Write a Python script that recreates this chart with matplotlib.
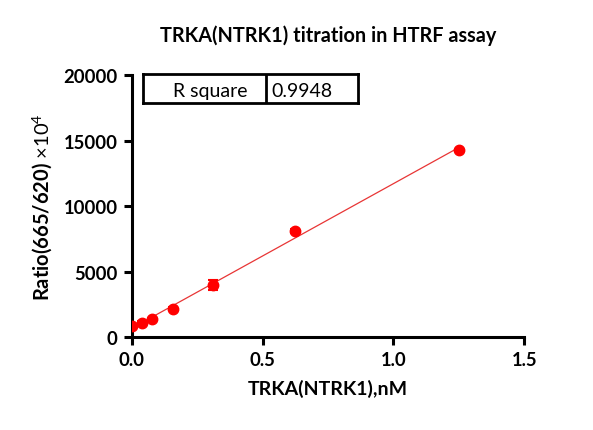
import numpy as np
import matplotlib
matplotlib.use("Agg")
import matplotlib.pyplot as plt

plt.rcParams['font.family'] = ['Lato', 'DejaVu Sans']
plt.rcParams['mathtext.fontset'] = 'custom'
plt.rcParams['mathtext.rm'] = 'Lato'

conc = [0.0, 0.039, 0.078, 0.156, 0.3125, 0.625, 1.25]
ratio = [870, 1125, 1380, 2195, 3975, 8090, 14290]
err = [60, 80, 90, 120, 360, 150, 100]
r_square = "0.9948"

fig = plt.figure(figsize=(5.93, 4.31), dpi=100)
ax = fig.add_axes([0.2221, 0.2151, 0.662, 0.6086])

# linear fit through the points
k, b = np.polyfit(conc, ratio, 1)
xf = np.array([0, max(conc)])
ax.plot(xf, k * xf + b, color='#e83535', lw=0.9, zorder=2)

ax.errorbar(conc, ratio, yerr=err, fmt='o', color='#ff0000', ms=7.5,
            elinewidth=1.5, capsize=3.5, capthick=1.5, zorder=3)

ax.set_xlim(0, 1.5)
ax.set_ylim(0, 20000)
ax.set_xticks([0, 0.5, 1.0, 1.5])
ax.set_xticklabels(['0.0', '0.5', '1.0', '1.5'])
ax.set_yticks([0, 5000, 10000, 15000, 20000])

for s in ['top', 'right']:
    ax.spines[s].set_visible(False)
for s in ['left', 'bottom']:
    ax.spines[s].set_linewidth(2.2)
ax.tick_params(width=2.2, length=6, labelsize=13.3, pad=4)
for lab in ax.get_xticklabels() + ax.get_yticklabels():
    lab.set_fontweight('bold')

ax.set_xlabel('TRKA(NTRK1),nM', fontsize=14, fontweight='bold', labelpad=8)
ax.set_ylabel(r'Ratio(665/620) $\times10^4$', fontsize=14.5, fontweight='bold', labelpad=6)
fig.text(0.553, 0.918, 'TRKA(NTRK1) titration in HTRF assay', ha='center', va='center',
         fontsize=14.3, fontweight='bold')

# R square table box
tb = ax.inset_axes([0.0293, 0.893, 0.548, 0.109])
tb.set_xlim(0, 1)
tb.set_ylim(0, 1)
tb.set_xticks([])
tb.set_yticks([])
for s in tb.spines.values():
    s.set_linewidth(2)
tb.axvline(0.572, color='black', lw=2)
tb.text(0.31, 0.45, 'R square', ha='center', va='center', fontsize=14)
tb.text(0.595, 0.45, r_square, ha='left', va='center', fontsize=14)

fig.savefig('out.png', dpi=100)
